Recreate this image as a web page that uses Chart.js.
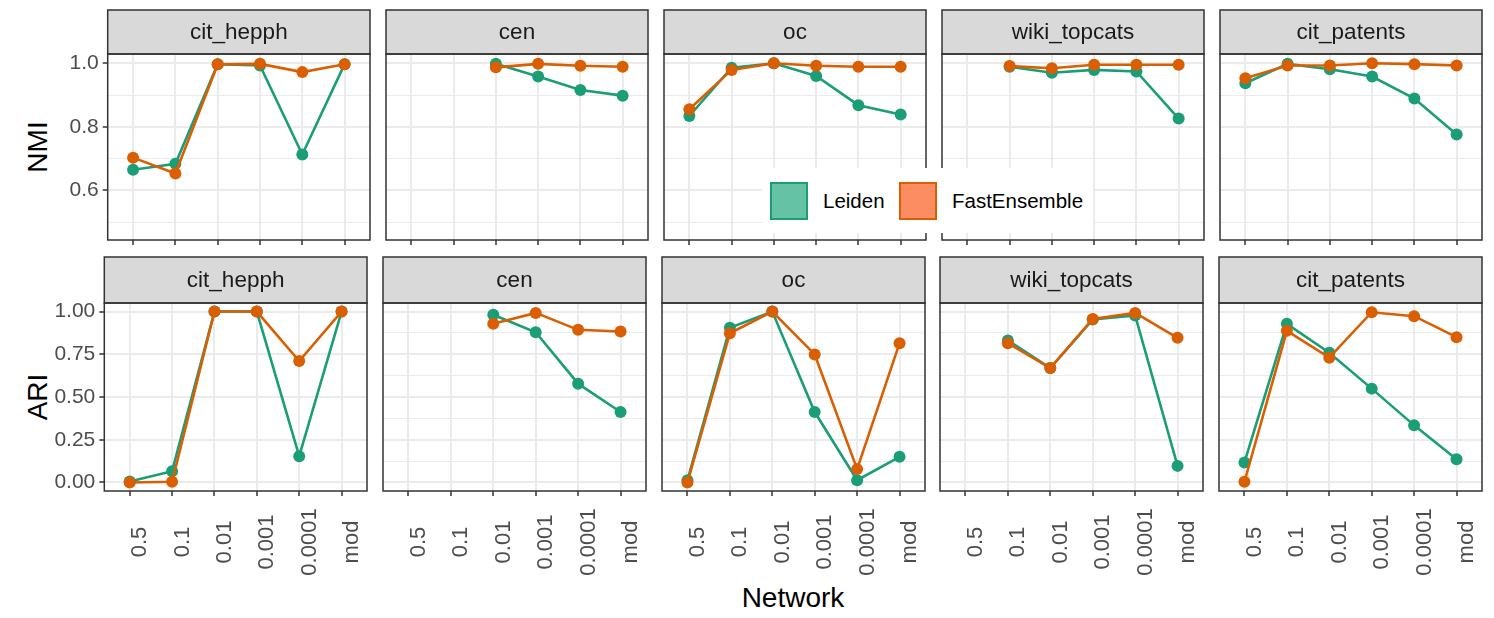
<!DOCTYPE html>
<html>
<head>
<meta charset="utf-8">
<script src="https://cdn.jsdelivr.net/npm/chart.js@4.4.0/dist/chart.umd.min.js"></script>
<style>
  body { margin: 0; background: #fff; width: 1494px; height: 618px; position: relative; overflow: hidden;
         font-family: "Liberation Sans", Arial, sans-serif; }
  .box { position: absolute; }
  .title { position: absolute; font-size: 28px; color: #000; white-space: nowrap; transform: translate(-50%, -50%); }
  .ytitle { transform: translate(-50%, -50%) rotate(-90deg); }
  #legend { position: absolute; left: 762px; top: 168px; width: 331px; height: 65px; background: #fff; z-index: 5; }
  .key { position: absolute; top: 14px; width: 34px; height: 34px; }
  .keytext { position: absolute; top: 33px; font-size: 20.5px; color: #000; transform: translateY(-50%); white-space: nowrap; }
</style>
</head>
<body>

<div class="title ytitle" style="left:38px; top:147px;">NMI</div>
<div class="title ytitle" style="left:38px; top:397px;">ARI</div>
<div class="title" style="left:793px; top:598px;">Network</div>
<div id="legend"></div>

<script>
// facets and x categories
var networks = ['cit_hepph', 'cen', 'oc', 'wiki_topcats', 'cit_patents'];
var resolutions = ['0.5', '0.1', '0.01', '0.001', '0.0001', 'mod'];
var methods = ['Leiden', 'FastEnsemble'];

// y tick labels (major) and the minor grid lines between them
var nmiTicks = [0.6, 0.8, 1.0];
var nmiMinor = [0.5, 0.7, 0.9];
var ariTicks = [0, 0.25, 0.5, 0.75, 1];
var ariMinor = [0.125, 0.375, 0.625, 0.875];

// one row per network, one value per resolution (null = not run)
var nmiLeiden = [
  [0.665, 0.684, 0.997, 0.993, 0.713, 0.997],
  [null, null, 0.998, 0.958, 0.916, 0.898],
  [0.834, 0.986, 1.000, 0.960, 0.868, 0.839],
  [null, 0.989, 0.970, 0.979, 0.974, 0.826],
  [0.937, 0.998, 0.981, 0.958, 0.889, 0.776]
];
var nmiFast = [
  [0.703, 0.653, 0.997, 0.998, 0.972, 0.997],
  [null, null, 0.987, 0.998, 0.992, 0.989],
  [0.855, 0.979, 1.000, 0.992, 0.989, 0.989],
  [null, 0.991, 0.984, 0.995, 0.995, 0.995],
  [0.953, 0.993, 0.993, 1.000, 0.997, 0.993]
];
var ariLeiden = [
  [0.005, 0.066, 1.000, 1.000, 0.154, 1.000],
  [null, null, 0.981, 0.879, 0.578, 0.412],
  [0.013, 0.905, 1.000, 0.412, 0.013, 0.150],
  [null, 0.831, 0.669, 0.953, 0.977, 0.097],
  [0.117, 0.928, 0.759, 0.549, 0.334, 0.136]
];
var ariFast = [
  [0.000, 0.004, 1.000, 1.000, 0.710, 1.000],
  [null, null, 0.928, 0.992, 0.893, 0.883],
  [0.000, 0.873, 1.000, 0.749, 0.078, 0.815],
  [null, 0.815, 0.669, 0.957, 0.992, 0.846],
  [0.004, 0.887, 0.730, 0.996, 0.973, 0.850]
];

var lineColors = ['#1B9E77', '#D95F02'];
var keyFills = ['#66C2A5', '#FC8D62'];
var FONT = '"Liberation Sans", Arial, sans-serif';

// panel geometry for the two rows (pixels)
var rows = [
  { stripTop: 10, stripH: 44, bottom: 239.5, left0: 107.7, pitch: 278.1, pw: 262.3,
    min: 0.444, max: 1.029, ticks: nmiTicks, minor: nmiMinor, dec: 1, a: nmiLeiden, b: nmiFast },
  { stripTop: 257, stripH: 46, bottom: 490.5, left0: 104.3, pitch: 278.7, pw: 262.6,
    min: -0.05, max: 1.05, ticks: ariTicks, minor: ariMinor, dec: 2, a: ariLeiden, b: ariFast }
];

// strip + panel border + rotated x labels
var facetPlugin = {
  id: 'facet',
  afterDraw: function (chart, args, opts) {
    var ctx = chart.ctx;
    var a = chart.chartArea;
    ctx.save();
    ctx.fillStyle = '#D9D9D9';
    ctx.fillRect(a.left, a.top - opts.stripH, a.right - a.left, opts.stripH);
    ctx.strokeStyle = '#333333';
    ctx.lineWidth = 1.5;
    ctx.strokeRect(a.left, a.top - opts.stripH, a.right - a.left, opts.stripH);
    ctx.strokeRect(a.left, a.top, a.right - a.left, a.bottom - a.top);
    ctx.fillStyle = '#1A1A1A';
    ctx.font = '22.5px ' + FONT;
    ctx.textAlign = 'center';
    ctx.textBaseline = 'middle';
    ctx.fillText(opts.label, (a.left + a.right) / 2, a.top - opts.stripH / 2 + 1);
    if (opts.xLabels) {
      var xs = chart.scales.x;
      ctx.fillStyle = '#4D4D4D';
      ctx.font = '22px ' + FONT;
      ctx.textBaseline = 'alphabetic';
      resolutions.forEach(function (lab, i) {
        ctx.save();
        // text top sits on the tick, reading upwards
        ctx.translate(xs.getPixelForValue(i) + 16.5, a.bottom + 51);
        ctx.rotate(-Math.PI / 2);
        ctx.fillText(lab, 0, 0);
        ctx.restore();
      });
    }
    ctx.restore();
  }
};

function toPoints(vals) {
  return vals.map(function (v, i) { return { x: i, y: v }; });
}

function makePanel(r, c) {
  var row = rows[r];
  var pl = row.left0 + c * row.pitch;
  var cx = c == 0 ? 0 : pl - 6;
  var cy = row.stripTop - 6;
  var xAxisH = r == 0 ? 6 : 88;
  var w = Math.round(pl + row.pw + 6 - cx);
  var h = Math.round(row.bottom + xAxisH + 6 - cy);

  var div = document.createElement('div');
  div.className = 'box';
  div.style.left = cx + 'px';
  div.style.top = cy + 'px';
  var canvas = document.createElement('canvas');
  canvas.width = w;
  canvas.height = h;
  div.appendChild(canvas);
  document.body.appendChild(div);

  var isMinor = function (ctx) { return ctx.tick && row.minor.indexOf(ctx.tick.value) >= 0; };

  new Chart(canvas, {
    type: 'line',
    data: {
      datasets: [
        { label: methods[0], data: toPoints(row.a[c]), order: 2 },
        { label: methods[1], data: toPoints(row.b[c]), order: 1 }
      ].map(function (ds, k) {
        ds.borderColor = lineColors[k];
        ds.backgroundColor = lineColors[k];
        ds.pointBackgroundColor = lineColors[k];
        ds.pointBorderWidth = 0;
        ds.pointRadius = 6;
        ds.borderWidth = 2.6;
        ds.tension = 0;
        ds.clip = false;
        return ds;
      })
    },
    plugins: [facetPlugin],
    options: {
      responsive: false,
      animation: false,
      events: [],
      layout: { autoPadding: false, padding: { left: 6, right: 6, top: 6 + row.stripH, bottom: 6 } },
      plugins: {
        legend: { display: false },
        tooltip: { enabled: false },
        facet: { label: networks[c], stripH: row.stripH, xLabels: r == 1 }
      },
      scales: {
        x: {
          type: 'linear', min: -0.6, max: 5.6,
          afterBuildTicks: function (s) { s.ticks = resolutions.map(function (l, i) { return { value: i }; }); },
          afterFit: function (s) { s.height = xAxisH; s.paddingLeft = 0; s.paddingRight = 0; },
          ticks: { display: false },
          border: { display: false },
          grid: { color: '#EBEBEB', lineWidth: 2, drawTicks: true, tickLength: 5, tickColor: '#333333', tickWidth: 1.5 }
        },
        y: {
          type: 'linear', min: row.min, max: row.max,
          afterBuildTicks: function (s) {
            s.ticks = row.ticks.concat(row.minor).sort(function (p, q) { return p - q; })
              .map(function (v) { return { value: v }; });
          },
          afterFit: function (s) {
            s.width = c == 0 ? pl - cx - 6 : 0;
            s.paddingTop = 0;
            s.paddingBottom = 0;
          },
          ticks: {
            display: c == 0,
            color: '#4D4D4D',
            font: { family: FONT, size: 21 },
            padding: 4,
            callback: function (v) { return row.ticks.indexOf(v) >= 0 ? v.toFixed(row.dec) : ''; }
          },
          border: { display: false },
          grid: {
            color: '#EBEBEB',
            lineWidth: function (ctx) { return isMinor(ctx) ? 1 : 2; },
            drawTicks: c == 0,
            tickLength: 5,
            tickWidth: 1.5,
            tickColor: function (ctx) { return isMinor(ctx) ? 'rgba(0,0,0,0)' : '#333333'; }
          }
        }
      }
    }
  });
}

for (var r = 0; r < rows.length; r++) {
  for (var c = 0; c < networks.length; c++) {
    makePanel(r, c);
  }
}

// legend inside the top row
var legendDoc = document.getElementById('legend');
var keyLeft = [8, 137];
var textLeft = [61, 190];
methods.forEach(function (m, k) {
  var key = document.createElement('div');
  key.className = 'key';
  key.style.left = keyLeft[k] + 'px';
  key.style.background = keyFills[k];
  key.style.border = '2px solid ' + lineColors[k];
  legendDoc.appendChild(key);
  var t = document.createElement('span');
  t.className = 'keytext';
  t.style.left = textLeft[k] + 'px';
  t.textContent = m;
  legendDoc.appendChild(t);
});
</script>
</body>
</html>
